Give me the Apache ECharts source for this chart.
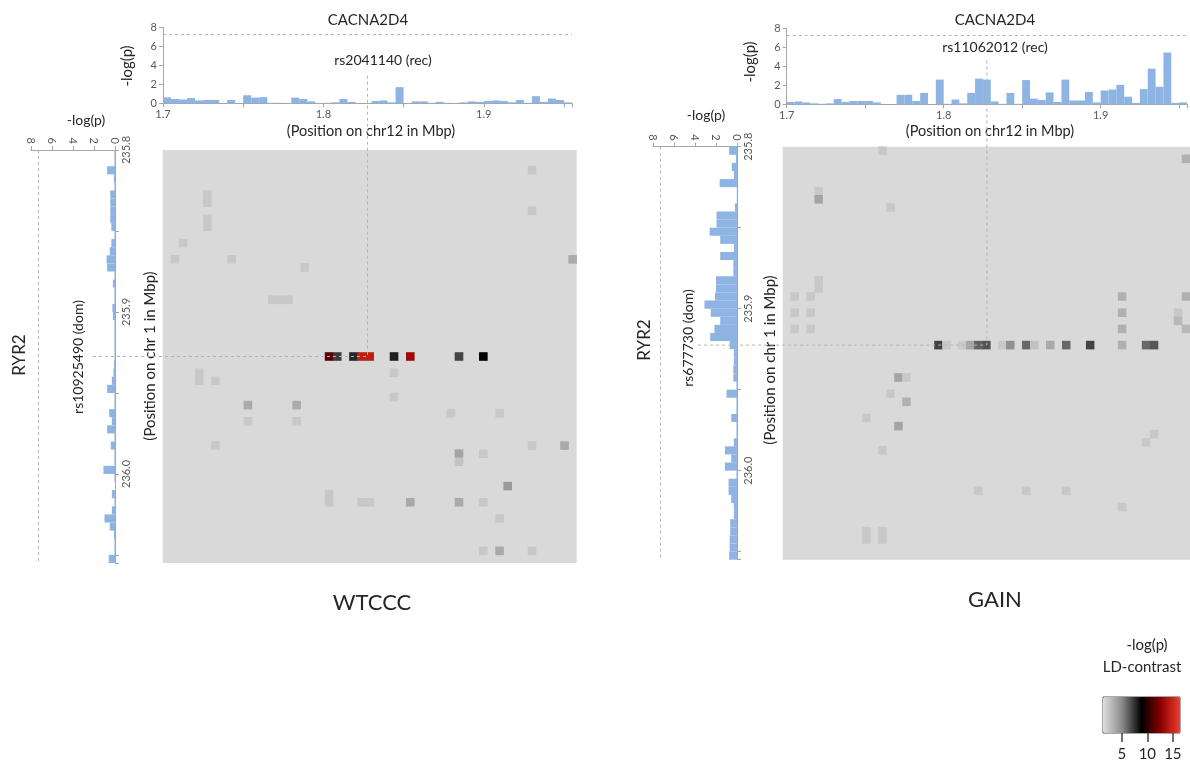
<!DOCTYPE html>
<html><head><meta charset="utf-8">
<script src="https://cdn.jsdelivr.net/npm/echarts@6.0.0/dist/echarts.min.js"></script>
<style>html,body{margin:0;padding:0;background:#fff}#c{width:1190px;height:763px}</style>
</head><body><div id="c"></div>
<script>
// ================= DATA =================
const snpBins = Array.from({length: 51}, (_, i) => i);      // SNP bin index (categories)
const chr12Range = [1.7, 1.955];                              // Mbp covered by the 51 bins
const chr1Range = [235.8, 236.055];
const chr12TickLabels = [1.7, 1.8, 1.9];
const chr1TickLabels = [235.8, 235.9, 236.0];
const legendTicks = [5, 10, 15];
const legendRange = [1.3, 16.4];
const threshold = 7.3;

const wtcccTop = [0.63,0.45,0.4,0.55,0.3,0.35,0.35,0,0.35,0,
  0.85,0.6,0.65,0.05,0.05,0,0.6,0.45,0.2,0,
  0.05,0.1,0.45,0.15,0,0,0.25,0.3,0.1,1.7,
  0,0.2,0.2,0.05,0.15,0.05,0,0.1,0.2,0.15,
  0.25,0.3,0.25,0.1,0.35,0.05,0.75,0.15,0.5,0.35,0.1];
const wtcccLeft = [0.05,0.05,0.75,0.1,0.05,0.45,0.45,0.45,0.45,0.35,
  0.05,0.35,0.5,0.8,0.75,0.05,0.2,0.05,0.05,0.25,
  0.2,0.05,0.05,0.05,0.05,0.05,0.1,0.15,0.3,0.75,
  0.05,0.05,0.55,0.3,0.75,0.05,0.4,0.05,0.05,1.1,
  0.05,0,0.3,0.05,0.3,1.0,0.5,0.1,0.05,0.05,0.6];
const gainTop = [0.25,0.3,0.2,0.1,0.05,0.1,0.55,0.25,0.35,0.35,
  0.35,0.2,0,0,1.0,1.0,0.35,1.2,0,2.6,
  0.05,0.5,0.1,1.2,2.7,2.6,0.3,0.05,1.2,0.05,
  2.55,0.6,0.45,1.25,0.25,2.6,0.4,0.4,1.3,0.2,
  1.45,1.55,2.05,0.8,0.15,1.6,3.75,1.85,5.45,0.15,0.2];
const gainLeft = [0.75,0.1,0.5,0.3,1.65,0.02,0.02,0.2,1.95,1.95,
  2.6,1.6,0.3,1.6,0.35,0.35,2.0,2.0,2.1,3.1,
  2.5,1.6,2.15,2.55,0.7,0.3,0.3,0.35,0.35,0.05,
  1.0,0.05,0.05,0.55,0.05,0.05,0.3,1.15,0.55,1.15,
  0.05,0.8,0.8,0.55,0.3,0.3,0.65,0.65,0.7,0.7,0.75];

// [column (chr12 bin), row (chr1 bin), LD-contrast -log(p)]
const wtcccCells = [
  [45,2,2.3],[45,7,2.3],[5,5,2.3],[5,6,2.3],[5,8,2.3],[5,9,2.3],[2,11,2.3],[1,13,2.3],[8,13,2.3],[50,13,3.6],
  [17,14,2.3],[13,18,2.3],[14,18,2.3],[15,18,2.3],
  [20,25,11.3],[21,25,7.2],[23,25,7.8],[24,25,14.5],[25,25,14.5],[28,25,8.0],[30,25,13.3],[36,25,7.0],[39,25,8.85],
  [4,27,2.3],[4,28,2.3],[6,28,2.3],[28,27,2.3],[28,30,2.3],[10,31,3.6],[16,31,3.6],[10,33,2.3],[16,33,2.3],
  [35,32,2.3],[41,32,2.3],[6,36,2.3],[45,36,2.3],[49,36,3.7],[36,37,3.9],[36,38,2.5],[39,37,2.3],[42,41,4.3],
  [20,42,2.3],[20,43,2.3],[24,43,2.3],[25,43,2.3],[30,43,3.7],[36,43,3.7],[39,43,2.3],[41,45,2.3],
  [39,49,2.3],[41,49,3.7],[45,49,2.3]
];
const gainCells = [
  [12,0,2.3],[4,5,2.3],[4,6,3.9],[13,7,2.3],[4,16,2.3],[4,17,2.3],[1,18,2.3],[3,18,2.3],[1,20,2.3],[3,20,2.3],
  [1,22,2.3],[3,22,2.3],[42,18,3.3],[42,20,3.3],[42,22,3.3],[42,24,3.3],[50,1,3.3],[50,18,3.3],[49,20,2.3],
  [49,21,3.0],[50,22,3.0],
  [19,24,7.1],[20,24,2.3],[22,24,2.3],[23,24,3.9],[24,24,6.2],[25,24,6.6],[27,24,2.3],[28,24,4.8],[30,24,6.0],
  [31,24,2.6],[33,24,3.7],[35,24,6.0],[38,24,7.0],[45,24,6.0],[46,24,6.5],
  [14,28,3.9],[15,28,2.3],[13,30,2.3],[15,31,3.3],[10,33,2.3],[14,34,3.9],[12,37,2.3],[46,35,2.3],[45,36,2.3],
  [24,42,2.3],[30,42,2.3],[35,42,2.3],[42,44,2.3],[10,47,2.3],[10,48,2.3],[12,47,2.3],[12,48,2.3]
];
const wtcccSnp = [25, 25];   // [chr12 bin, chr1 bin] of the highlighted pair
const gainSnp = [25, 24];

// ================= STYLE / LAYOUT =================
const F = 'Lato, "Open Sans", sans-serif';
const AX = '#a6a6a6', LAB = '#595959', BAR = '#8db4e2', DASH = '#b4b4b4', TXT = '#262626';

const panels = [
  { top: {left: 163, top: 27.3, width: 409, height: 76},
    side: {left: 31, top: 150, width: 84, height: 413},
    heat: {left: 162.7, top: 150, width: 414, height: 413},
    topVals: wtcccTop, sideVals: wtcccLeft, cells: wtcccCells, snp: wtcccSnp,
    vStart: 2.9, hStart: 2.1 },
  { top: {left: 786.7, top: 28.3, width: 408, height: 76},
    side: {left: 653, top: 146.7, width: 84, height: 413},
    heat: {left: 782.7, top: 146.7, width: 413, height: 413},
    topVals: gainTop, sideVals: gainLeft, cells: gainCells, snp: gainSnp,
    vStart: 4.6, hStart: 3.7 }
];

const grid = [], xAxis = [], yAxis = [], series = [], heatSeries = [];
const near = (v, arr) => arr.some(t => Math.abs(t - v) < 1e-6);
const dashedMark = (d) => ({silent: true, symbol: 'none', label: {show: false},
  lineStyle: {type: [3, 3], color: DASH, width: 1}, data: [d]});

panels.forEach((p) => {
  const g0 = grid.length; grid.push(Object.assign({containLabel: false}, p.top));
  const g1 = grid.length; grid.push(Object.assign({containLabel: false}, p.side));
  const g2 = grid.length; grid.push(Object.assign({containLabel: false, show: true,
    backgroundColor: '#d9d9d9', borderWidth: 0}, p.heat));

  // --- top bar chart (chr12) ---
  p.xCat = xAxis.length;
  xAxis.push({gridIndex: g0, type: 'category', position: 'top', data: snpBins, show: false});
  xAxis.push({gridIndex: g0, type: 'value', position: 'bottom', min: chr12Range[0], max: chr12Range[1], interval: 0.05,
    axisLine: {onZero: false, lineStyle: {color: AX}}, axisTick: {show: true, length: 4, lineStyle: {color: AX}},
    splitLine: {show: false},
    axisLabel: {fontFamily: F, fontSize: 11, color: LAB, margin: 6,
      formatter: v => near(v, chr12TickLabels) ? v.toFixed(1) : ''}});
  p.yTop = yAxis.length;
  yAxis.push({gridIndex: g0, type: 'value', position: 'left', min: 0, max: 8, interval: 2,
    axisLine: {show: true, onZero: false, lineStyle: {color: AX}}, axisTick: {show: true, length: 4, lineStyle: {color: AX}},
    splitLine: {show: false}, axisLabel: {fontFamily: F, fontSize: 11, color: LAB, margin: 6}});
  series.push({type: 'bar', xAxisIndex: p.xCat, yAxisIndex: p.yTop, data: p.topVals,
    barWidth: '100%', itemStyle: {color: BAR}, silent: true,
    markLine: dashedMark({yAxis: threshold})});

  // --- side bar chart (chr1) ---
  p.xSide = xAxis.length;
  xAxis.push({gridIndex: g1, type: 'value', min: 0, max: 8, interval: 2, inverse: true, position: 'top',
    axisLine: {onZero: false, lineStyle: {color: AX}}, axisTick: {show: true, length: 4, lineStyle: {color: AX}},
    splitLine: {show: false}, axisLabel: {fontFamily: F, fontSize: 11, color: LAB, rotate: 90, margin: 6}});
  p.ySideCat = yAxis.length;
  yAxis.push({gridIndex: g1, type: 'category', position: 'left', data: snpBins, inverse: true, show: false});
  yAxis.push({gridIndex: g1, type: 'value', position: 'right', inverse: true,
    min: chr1Range[0], max: chr1Range[1], interval: 0.05,
    axisLine: {show: true, onZero: false, lineStyle: {color: AX}}, axisTick: {show: true, length: 4, lineStyle: {color: AX}},
    splitLine: {show: false},
    axisLabel: {fontFamily: F, fontSize: 11, color: LAB, rotate: 90, margin: 6,
      formatter: v => near(v, chr1TickLabels) ? v.toFixed(1) : ''}});
  series.push({type: 'bar', xAxisIndex: p.xSide, yAxisIndex: p.ySideCat, data: p.sideVals,
    barWidth: '100%', itemStyle: {color: BAR}, silent: true,
    markLine: dashedMark({xAxis: threshold})});

  // --- heatmap ---
  p.xHeat = xAxis.length;
  xAxis.push({gridIndex: g2, type: 'category', data: snpBins, show: false});
  p.yHeat = yAxis.length;
  yAxis.push({gridIndex: g2, type: 'category', data: snpBins, inverse: true, show: false});
  heatSeries.push(series.length);
  series.push({type: 'heatmap', xAxisIndex: p.xHeat, yAxisIndex: p.yHeat, data: p.cells,
    silent: true, emphasis: {disabled: true}, itemStyle: {borderWidth: 0}});
});

// legend tick grid
const legBox = {left: 1103, top: 697, width: 77, height: 36};
grid.push(Object.assign({show: true, borderColor: '#505050', borderWidth: 1, backgroundColor: 'transparent'}, legBox));
xAxis.push({gridIndex: grid.length - 1, type: 'value', min: legendRange[0], max: legendRange[1],
  axisLine: {show: false}, splitLine: {show: false},
  axisTick: {show: true, length: 9, customValues: legendTicks, lineStyle: {color: '#404040', width: 1.5}},
  axisLabel: {fontFamily: F, fontSize: 15, color: TXT, margin: 14, customValues: legendTicks}});
yAxis.push({gridIndex: grid.length - 1, type: 'value', show: false});

const txt = (x, y, s, size, rot, extra) => ({type: 'text', x, y, rotation: rot || 0, silent: true,
  style: Object.assign({text: s, fontFamily: F, fontSize: size, fill: TXT, align: 'center', verticalAlign: 'middle'}, extra || {})});
const R = Math.PI / 2;
const texts = [
  txt(368, 20, 'CACNA2D4', 15), txt(383, 60, 'rs2041140 (rec)', 14),
  txt(127, 66, '-log(p)', 15, R), txt(371, 131, '(Position on chr12 in Mbp)', 14.5),
  txt(86, 120, '-log(p)', 14), txt(20, 355, 'RYR2', 17, R), txt(78, 357, 'rs10925490 (dom)', 14, R),
  txt(150, 356, '(Position on chr 1 in Mbp)', 15, R), txt(372, 603, 'WTCCC', 22),
  txt(995, 20, 'CACNA2D4', 15), txt(995, 47, 'rs11062012 (rec)', 14),
  txt(750, 62, '-log(p)', 15, R), txt(990, 131, '(Position on chr12 in Mbp)', 14.5),
  txt(706, 115, '-log(p)', 14), txt(645, 340, 'RYR2', 17, R), txt(688, 338, 'rs677730 (dom)', 14, R),
  txt(770, 360, '(Position on chr 1 in Mbp)', 15, R), txt(995, 600, 'GAIN', 22),
  txt(1147, 645, '-log(p)', 15), txt(1142, 667, 'LD-contrast', 15)
];

const option = {
  animation: false,
  backgroundColor: '#fff',
  grid, xAxis, yAxis, series,
  visualMap: {type: 'continuous', seriesIndex: heatSeries, min: legendRange[0], max: legendRange[1],
    orient: 'horizontal', left: legBox.left, top: legBox.top, itemWidth: legBox.height, itemHeight: legBox.width,
    padding: 0, calculable: false, hoverLink: false, text: null, showLabel: false, realtime: false,
    inRange: {color: ['#dedede', '#8a8a8a', '#000000', '#8a0000', '#f03c2c']}},
  graphic: {elements: texts}
};

const chart = echarts.init(document.getElementById('c'), null, {renderer: 'canvas'});
chart.setOption(option);

// dashed guide lines through the highlighted SNP pair, positioned via the axes
const lines = [];
panels.forEach((p, k) => {
  const topPt = chart.convertToPixel({xAxisIndex: p.xCat, yAxisIndex: p.yTop}, [p.snp[0], p.vStart]);
  const cell = chart.convertToPixel({xAxisIndex: p.xHeat, yAxisIndex: p.yHeat}, [p.snp[0], p.snp[1]]);
  const sidePt = chart.convertToPixel({xAxisIndex: p.xSide, yAxisIndex: p.ySideCat}, [p.hStart, p.snp[1]]);
  const ls = {stroke: DASH, lineWidth: 1, lineDash: [3, 3]};
  lines.push({type: 'line', id: 'v' + k, silent: true, z: 100, shape: {x1: topPt[0], y1: topPt[1], x2: topPt[0], y2: cell[1]}, style: ls});
  lines.push({type: 'line', id: 'h' + k, silent: true, z: 100, shape: {x1: sidePt[0], y1: cell[1], x2: topPt[0], y2: cell[1]}, style: ls});
});
chart.setOption({graphic: {elements: texts.concat(lines)}});
</script></body></html>
